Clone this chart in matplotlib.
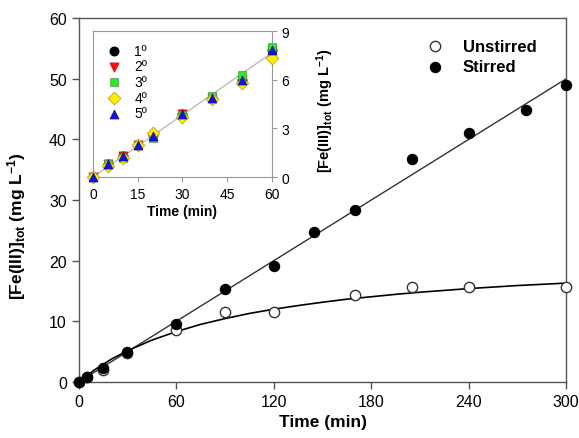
import numpy as np
import matplotlib.pyplot as plt

plt.rcParams['font.family'] = ['Liberation Sans', 'DejaVu Sans']
plt.rcParams['mathtext.fontset'] = 'custom'
plt.rcParams['mathtext.rm'] = 'Liberation Sans'
plt.rcParams['mathtext.bf'] = 'Liberation Sans:bold'
plt.rcParams['mathtext.default'] = 'bf'

# main panel data
t_stirred = [0, 5, 15, 30, 60, 90, 120, 145, 170, 205, 240, 275, 300]
fe_stirred = [0, 0.9, 2.3, 5.0, 9.6, 15.4, 19.2, 24.8, 28.4, 36.8, 41.0, 44.8, 49.0]
t_unstirred = [0, 5, 15, 30, 60, 90, 120, 170, 205, 240, 300]
fe_unstirred = [0, 0.8, 2.0, 4.7, 8.5, 11.5, 11.5, 14.3, 15.7, 15.7, 15.7]

# fitted lines
t_fit_lin = [0, 300]
fe_fit_lin = [0, 50.0]
t_fit_curve = [0, 10, 20, 30, 45, 60, 75, 90, 105, 120, 135, 150, 165, 180,
               195, 210, 225, 240, 255, 270, 285, 300]
fe_fit_curve = [0, 2.05, 3.75, 5.15, 6.9, 8.3, 9.5, 10.45, 11.3, 12.0, 12.6, 13.15,
                13.65, 14.05, 14.45, 14.8, 15.1, 15.4, 15.65, 15.9, 16.1, 16.3]

# inset data (repeated runs)
t_runs = [0, 5, 10, 15, 20, 30, 40, 50, 60]
run1 = [0, 0.8, 1.3, 2.0, 2.6, 3.9, 4.9, 6.0, 7.8]
run2 = [0, 0.8, 1.3, 2.0, 2.5, 3.9, 4.9, 6.0, 7.8]
run3 = [0, 0.8, 1.2, 2.0, 2.4, 3.8, 5.0, 6.3, 8.0]
run4 = [0, 0.7, 1.2, 2.0, 2.7, 3.7, 4.8, 5.8, 7.35]
run5 = [0, 0.8, 1.3, 1.95, 2.5, 3.9, 4.9, 6.0, 7.85]
run_labels = ['1º', '2º', '3º', '4º', '5º']
t_inset_fit = [0, 60]
fe_inset_fit = [0, 7.65]

spine_col = '#555555'

fig = plt.figure(figsize=(5.79, 4.39), dpi=100)
ax = fig.add_axes([0.136, 0.1276, 0.842, 0.829])

ax.plot(t_fit_lin, fe_fit_lin, color='#333333', lw=1.0, zorder=1)
ax.plot(t_fit_curve, fe_fit_curve, color='black', lw=1.2, zorder=1)
ax.scatter(t_unstirred, fe_unstirred, s=55, facecolor='white', edgecolor='#333333',
           linewidth=1.0, zorder=3, label='Unstirred', clip_on=False)
ax.scatter(t_stirred, fe_stirred, s=52, facecolor='black', edgecolor='black',
           zorder=4, label='Stirred', clip_on=False)

ax.set_xlim(0, 300)
ax.set_ylim(0, 60)
ax.set_xticks(np.arange(0, 301, 60))
ax.set_yticks(np.arange(0, 61, 10))
ax.tick_params(direction='out', length=5, width=1, color=spine_col, labelsize=11.5)
for s in ax.spines.values():
    s.set_color(spine_col)
    s.set_linewidth(1.0)
ax.set_xlabel('Time (min)', fontsize=12.5, fontweight='bold', labelpad=4)
ax.set_ylabel('[Fe(III)]$_{tot}$ (mg L$^{-1}$)', fontsize=12.5, fontweight='bold')
ax.yaxis.set_label_coords(-0.105, 0.43)

leg = ax.legend(loc='upper left', bbox_to_anchor=(0.665, 0.985), frameon=False,
                prop={'weight': 'bold', 'size': 12}, handletextpad=0.7,
                labelspacing=0.35, scatterpoints=1)

# inset
ins = fig.add_axes([0.1606, 0.5945, 0.309, 0.3326])
ins.plot(t_inset_fit, fe_inset_fit, color='#bbbbbb', lw=1.0, zorder=1)
ins.scatter(t_runs, run1, s=38, marker='o', color='black', label=run_labels[0], zorder=3, clip_on=False)
ins.scatter(t_runs, run2, s=38, marker='v', color='#ee1111', label=run_labels[1], zorder=3, clip_on=False)
ins.scatter(t_runs, run3, s=36, marker='s', facecolor='#22ee22', edgecolor='#559955',
            linewidth=0.5, label=run_labels[2], zorder=4, clip_on=False)
ins.scatter(t_runs, run4, s=42, marker='D', facecolor='#ffee00', edgecolor='#aa9900',
            linewidth=0.5, label=run_labels[3], zorder=4, clip_on=False)
ins.scatter(t_runs, run5, s=42, marker='^', facecolor='#1111ee', edgecolor='#111188',
            linewidth=0.5, label=run_labels[4], zorder=5, clip_on=False)
ins.set_xlim(0, 60)
ins.set_ylim(0, 9)
ins.set_xticks(np.arange(0, 61, 15))
ins.set_yticks(np.arange(0, 10, 3))
ins.yaxis.tick_right()
ins.yaxis.set_label_position('right')
ins.tick_params(direction='out', length=3.5, width=0.8, color='#999999', labelsize=10)
for s in ins.spines.values():
    s.set_color('#999999')
    s.set_linewidth(0.8)
ins.set_xlabel('Time (min)', fontsize=10, fontweight='bold', labelpad=2)
ins.set_ylabel('[Fe(III)]$_{tot}$ (mg L$^{-1}$)', fontsize=10.5, fontweight='bold', labelpad=5)
ins.yaxis.set_label_coords(1.235, 0.46)
ins.legend(loc='upper left', bbox_to_anchor=(-0.03, 1.0), frameon=False, fontsize=10,
           handletextpad=0.45, labelspacing=0.12, scatterpoints=1)

fig.savefig('out.png', dpi=100)
